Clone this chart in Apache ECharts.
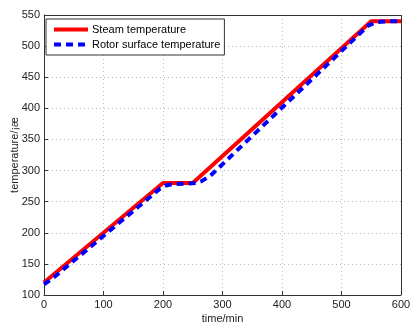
<!DOCTYPE html>
<html><head><meta charset="utf-8">
<script src="https://cdn.jsdelivr.net/npm/echarts@6/dist/echarts.min.js"></script>
<style>html,body{margin:0;padding:0;background:#fff}#c{width:418px;height:335px}</style>
</head><body><div id="c"></div>
<script>
const steamTime = [0, 200, 250, 550, 600];
const steamTemp = [120, 280, 280, 540, 540];
const rotorTime = [0, 20, 195, 205, 215, 240, 255, 265, 280, 545, 555, 565, 580, 600];
const rotorTemp = [117, 131, 271, 276, 278, 279, 280, 283, 292, 533, 537, 539, 540, 540];
const xTicks = [0, 100, 200, 300, 400, 500, 600];
const yTicks = [100, 150, 200, 250, 300, 350, 400, 450, 500, 550];
const seriesNames = ['Steam temperature', 'Rotor surface temperature'];

const font = 'Liberation Sans, Arial, sans-serif';
const chart = echarts.init(document.getElementById('c'));
const split = {show: true, lineStyle: {color: '#bbb', type: [1, 3], width: 1}};
chart.setOption({
  animation: false,
  grid: {left: 44, right: 17, top: 15, bottom: 40, containLabel: false, outerBoundsMode: 'none'},
  legend: {
    orient: 'vertical', left: 46, top: 19, itemGap: 4,
    itemWidth: 34, itemHeight: 10,
    backgroundColor: '#fff', borderColor: '#333', borderWidth: 1,
    padding: [5, 4, 5, 6],
    itemStyle: {color: 'transparent', borderWidth: 0, opacity: 0},
    lineStyle: {width: 4},
    textStyle: {fontFamily: font, fontSize: 11, color: '#000', padding: [0, 0, 0, -1]},
    data: seriesNames.map(n => ({name: n}))
  },
  xAxis: {
    type: 'value', min: xTicks[0], max: xTicks[xTicks.length - 1], interval: 100,
    name: 'time/min', nameLocation: 'middle', nameGap: 18, nameMoveOverlap: false,
    nameTextStyle: {fontFamily: font, fontSize: 11, color: '#222'},
    axisLine: {lineStyle: {color: '#333', width: 1}},
    axisTick: {inside: true, length: 4, lineStyle: {color: '#333'}},
    axisLabel: {fontFamily: font, fontSize: 11, color: '#222', margin: 4},
    splitLine: split
  },
  yAxis: {
    type: 'value', min: yTicks[0], max: yTicks[yTicks.length - 1], interval: 50,
    name: 'temperature/¡æ', nameLocation: 'middle', nameGap: 24, nameMoveOverlap: false,
    nameTextStyle: {fontFamily: font, fontSize: 11, color: '#222'},
    axisLine: {show: true, lineStyle: {color: '#333', width: 1}},
    axisTick: {show: true, inside: true, length: 4, lineStyle: {color: '#333'}},
    axisLabel: {fontFamily: font, fontSize: 11, color: '#222', margin: 4},
    splitLine: split
  },
  series: [
    {
      name: seriesNames[0], type: 'line', symbol: 'none',
      data: steamTime.map((t, i) => [t, steamTemp[i]]),
      lineStyle: {color: '#ff0000', width: 4}, itemStyle: {color: '#ff0000'}
    },
    {
      name: seriesNames[1], type: 'line', symbol: 'none',
      data: rotorTime.map((t, i) => [t, rotorTemp[i]]),
      lineStyle: {color: '#0000ff', width: 4, type: [7, 5]}, itemStyle: {color: '#0000ff'}
    },
    {
      type: 'line', silent: true, symbol: 'none', data: [],
      markLine: {silent: true, symbol: 'none', label: {show: false},
        lineStyle: {color: '#333', type: 'solid', width: 1},
        data: [{xAxis: xTicks[xTicks.length - 1]}, {yAxis: yTicks[yTicks.length - 1]}]}
    }
  ]
});
</script></body></html>
